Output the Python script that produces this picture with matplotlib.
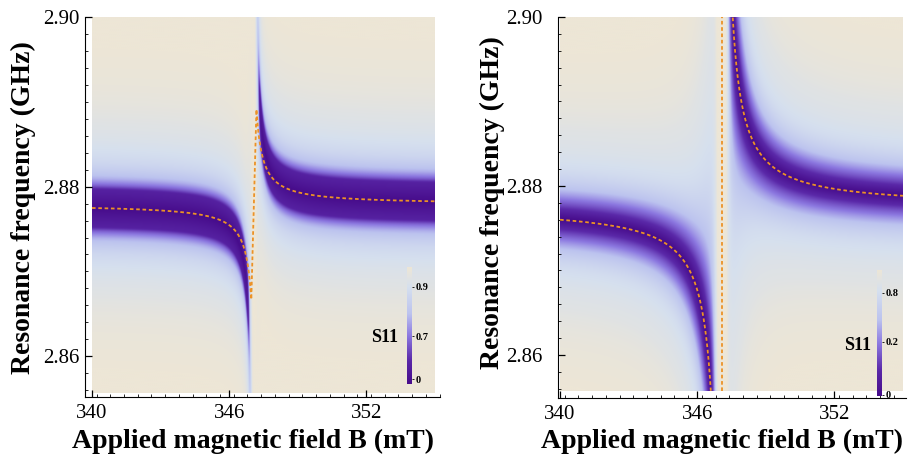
import numpy as np
import matplotlib.pyplot as plt
from matplotlib.colors import LinearSegmentedColormap
from matplotlib.ticker import MultipleLocator

plt.rcParams['font.family'] = ['Liberation Serif', 'DejaVu Serif']

# axis ranges (mT, GHz)
b_range = [340.0, 355.0]
f_range = [2.8557, 2.90]
b_ticks = [340, 346, 352]
f_ticks = [2.86, 2.88, 2.90]

# left panel: cavity-like branch with weak magnon dip
left_wc = 2.8779      # cavity frequency (GHz)
left_b0 = 347.08      # crossing field (mT)
left_c = 0.003        # branch bending (GHz*mT)
left_kc = 0.004       # cavity half width (GHz)
left_km = 0.02        # magnon half width (GHz)
left_gw = 0.0186      # hybridisation scale (GHz)
left_eta = 0.12       # magnon dip strength
left_reach = 1.0      # detuning beyond which the dip dies out (GHz)
left_dash_shift = 0.155   # branches of the eigenvalue curve pulled towards the gap
left_dash_gap = 0.0113    # half height of the jump (GHz)

# right panel: hyperbolic anticrossing
right_wc = 2.8775
right_b0 = 347.08
right_c = 0.0106
right_kc = 0.004
right_km = 0.03
right_gw = 0.02
right_eta = 1.0
right_reach = 0.035

# colour scale shared by both colour bars
bar_colors = ["#470c8b", "#5a28a8", "#8c78e0", "#bcc3ef", "#d6e0ee", "#ede6d6"]
bar_pos = [0.0, 0.2, 0.41, 0.6, 0.83, 1.0]
left_cbar_labels = ["0", "0.7", "0.9"]
left_cbar_at = [0.04, 0.41, 0.83]
right_cbar_labels = ["0", "0.2", "0.8"]
right_cbar_at = [0.01, 0.43, 0.82]

# S11 -> position on the colour bar
left_s_nodes = [0, 0.48, 0.56, 0.66, 0.8, 0.93, 0.98, 1]
left_p_nodes = [0, 0.15, 0.35, 0.55, 0.75, 0.9, 1, 1]
right_s_nodes = [0, 0.15, 0.3, 0.5, 0.65, 0.82, 0.93, 0.98, 1]
right_p_nodes = [0, 0.1, 0.22, 0.41, 0.6, 0.8, 0.9, 1, 1]

cmap = LinearSegmentedColormap.from_list("s11", list(zip(bar_pos, bar_colors)))
dash_color = "#ec9226"
dash_style = (0, (2.0, 1.5))


def s11_map(B, F, wc, b0, c, kc, km, gw, eta, reach, power):
    fb = wc + c / (B - b0)
    det = fb - wc
    x = 1 / (1 + np.abs(det / gw) ** power)
    h = x * kc + (1 - x) * km
    a = (x * kc + (1 - x) * km * eta) / h
    a = a / (1 + (det / reach) ** 4)
    r = 1 - a / (1 + 1j * (F - fb) / h)
    return np.abs(r)


bb = np.linspace(b_range[0], b_range[1], 1201)
ff = np.linspace(f_range[0], f_range[1], 700)
B, F = np.meshgrid(bb, ff)

s_left = s11_map(B, F, left_wc, left_b0, left_c, left_kc, left_km, left_gw,
                 left_eta, left_reach, 4)
s_right = s11_map(B, F, right_wc, right_b0, right_c, right_kc, right_km, right_gw,
                  right_eta, right_reach, 2)

fig = plt.figure(figsize=(9.09, 4.59), dpi=100)
W, H = 909.0, 459.0


def setup_axes(ax, xlim, ylim, ypad):
    ax.set_xlim(xlim)
    ax.set_ylim(ylim)
    ax.spines['top'].set_visible(False)
    ax.spines['right'].set_visible(False)
    ax.set_xticks(b_ticks)
    ax.set_yticks(f_ticks)
    ax.set_yticklabels(["%.2f" % v for v in f_ticks])
    ax.xaxis.set_minor_locator(MultipleLocator(0.6))
    ax.yaxis.set_minor_locator(MultipleLocator(0.002))
    ax.tick_params(which='both', direction='in', labelsize=15)
    ax.tick_params(which='major', length=5, width=0.9)
    ax.tick_params(which='minor', length=2.5, width=0.6)
    ax.tick_params(axis='x', pad=5)
    ax.tick_params(axis='y', pad=ypad)


def add_cbar(x0, y0, w, h, labels, at, s_x, s_y):
    cax = fig.add_axes([x0 / W, 1 - (y0 + h) / H, w / W, h / H])
    grad = np.linspace(0, 1, 256).reshape(-1, 1)
    cax.imshow(grad, cmap=cmap, aspect='auto', origin='lower', extent=(0, 1, 0, 1))
    for sp in cax.spines.values():
        sp.set_visible(False)
    cax.set_xticks([])
    cax.yaxis.tick_right()
    cax.set_yticks(at)
    cax.set_yticklabels(labels, fontweight='bold', fontsize=7.5)
    cax.tick_params(axis='y', length=1.5, width=0.6, pad=1)
    cax.set_ylim(0, 1)
    fig.text(s_x / W, 1 - s_y / H, "S11", ha='center', va='center',
             fontsize=13, fontweight='bold')


# left panel
ax1 = fig.add_axes([85 / W, 62 / H, 355 / W, 380 / H])
p_left = np.interp(s_left, left_s_nodes, left_p_nodes)
ax1.imshow(p_left, cmap=cmap, vmin=0, vmax=1, origin='lower', aspect='auto',
           extent=(b_range[0], b_range[1], f_range[0], f_range[1]), interpolation='bilinear')
bd = np.linspace(b_range[0], b_range[1], 4001)
f_lo = left_wc + left_c / (bd - (left_b0 + left_dash_shift))
f_hi = left_wc + left_c / (bd - (left_b0 - left_dash_shift))
m_lo = (bd < left_b0 + left_dash_shift) & (f_lo >= left_wc - left_dash_gap)
m_hi = (bd > left_b0 - left_dash_shift) & (f_hi <= left_wc + left_dash_gap)
bx = np.concatenate([bd[m_lo], bd[m_hi]])
fx = np.concatenate([f_lo[m_lo], f_hi[m_hi]])
ax1.plot(bx, fx, color=dash_color, lw=1.3, ls=dash_style)
setup_axes(ax1, (339.695, 355.22), (2.8552, 2.90), 4)

# right panel
ax2 = fig.add_axes([558 / W, 61 / H, 348 / W, 381 / H])
p_right = np.interp(s_right, right_s_nodes, right_p_nodes)
ax2.imshow(p_right, cmap=cmap, vmin=0, vmax=1, origin='lower', aspect='auto',
           extent=(b_range[0], b_range[1], f_range[0], f_range[1]), interpolation='bilinear')
fr = right_wc + right_c / (bd - right_b0)
inside = (fr >= f_range[0]) & (fr <= f_range[1])
lo = inside & (bd < right_b0)
hi = inside & (bd > right_b0)
ax2.plot(bd[lo], fr[lo], color=dash_color, lw=1.3, ls=dash_style)
ax2.plot(bd[hi], fr[hi], color=dash_color, lw=1.3, ls=dash_style)
ax2.plot([right_b0, right_b0], f_range, color=dash_color, lw=1.3, ls=dash_style)
setup_axes(ax2, (339.91, 355.13), (2.8549, 2.90), 11)

add_cbar(407, 267, 5, 117, left_cbar_labels, left_cbar_at, 385, 337)
add_cbar(877, 270, 5, 126, right_cbar_labels, right_cbar_at, 858, 345)

xlabel = "Applied magnetic field B (mT)"
ylabel = "Resonance frequency (GHz)"
fig.text(253 / W, 1 - 448 / H, xlabel, ha='center', va='baseline', fontsize=20, fontweight='bold')
fig.text(722 / W, 1 - 448 / H, xlabel, ha='center', va='baseline', fontsize=20, fontweight='bold')
fig.text(23 / W, 1 - 208 / H, ylabel, ha='center', va='center', rotation=90, fontsize=20, fontweight='bold')
fig.text(492 / W, 1 - 203 / H, ylabel, ha='center', va='center', rotation=90, fontsize=20, fontweight='bold')

fig.savefig("out.png", dpi=100)
